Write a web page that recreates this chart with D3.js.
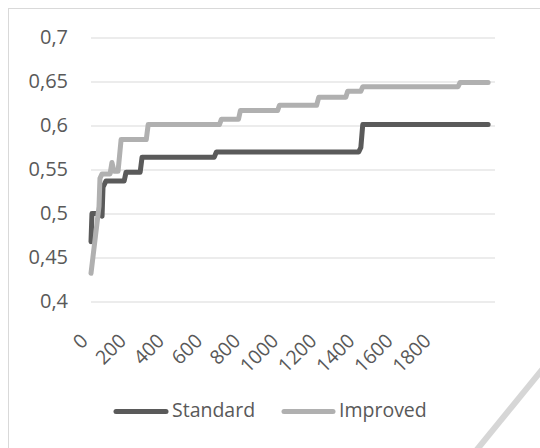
<!DOCTYPE html>
<html>
<head>
<meta charset="utf-8">
<script src="https://cdn.jsdelivr.net/npm/d3@7"></script>
<style>
  html, body { margin: 0; padding: 0; background: #ffffff; }
  svg { display: block; }
  text { font-family: "Open Sans", "Noto Sans", sans-serif; fill: #595959; }
</style>
</head>
<body>
<svg id="chart" width="540" height="448"></svg>
<script>
// ---- data ----
const seriesNames = ["Standard", "Improved"];
const standardX = [0, 5, 53, 58, 63, 79, 174, 184, 258, 268, 647, 658, 1405, 1416, 1426, 2084];
const standardY = [0.468, 0.500, 0.500, 0.497, 0.530, 0.537, 0.537, 0.547, 0.547, 0.564, 0.564, 0.570, 0.570, 0.575, 0.601, 0.601];
const improvedX = [0, 21, 42, 47, 58, 100, 110, 121, 142, 158, 290, 300, 674, 684, 774, 784, 979, 989, 1184, 1195, 1337, 1347, 1416, 1426, 1926, 1937, 2084];
const improvedY = [0.432, 0.470, 0.508, 0.540, 0.545, 0.545, 0.558, 0.548, 0.548, 0.584, 0.584, 0.601, 0.601, 0.607, 0.607, 0.617, 0.617, 0.623, 0.623, 0.632, 0.632, 0.639, 0.639, 0.644, 0.644, 0.649, 0.649];
const xTickValues = [0, 200, 400, 600, 800, 1000, 1200, 1400, 1600, 1800];
const yTickValues = [0.4, 0.45, 0.5, 0.55, 0.6, 0.65, 0.7];
const yTickLabels = ["0,4", "0,45", "0,5", "0,55", "0,6", "0,65", "0,7"];
const seriesColors = ["#5a5a5a", "#b0b0b0"];

// ---- layout ----
const svg = d3.select("#chart");
const plot = { left: 91, right: 495, top: 37.5, bottom: 301.5 };

const x = d3.scaleLinear().domain([0, 2120]).range([plot.left, plot.right]);
const y = d3.scaleLinear().domain([0.4, 0.7]).range([plot.bottom, plot.top]);

// chart frame
svg.append("rect")
  .attr("x", 8.5).attr("y", 8.5)
  .attr("width", 560).attr("height", 460)
  .attr("fill", "none").attr("stroke", "#d9d9d9").attr("stroke-width", 1);

// decorative diagonal at bottom-right
svg.append("line")
  .attr("x1", 545).attr("y1", 366)
  .attr("x2", 475).attr("y2", 452)
  .attr("stroke", "#d6d6d6").attr("stroke-width", 6);

// gridlines
const yAxis = d3.axisLeft(y)
  .tickValues(yTickValues)
  .tickSize(-(plot.right - plot.left))
  .tickPadding(23)
  .tickFormat((d, i) => yTickLabels[i]);

const gy = svg.append("g")
  .attr("transform", `translate(${plot.left},0)`)
  .call(yAxis);
gy.select(".domain").remove();
gy.selectAll(".tick line").attr("stroke", "#d9d9d9").attr("stroke-width", 1);
gy.selectAll(".tick text")
  .attr("font-size", 20)
  .attr("fill", "#595959")
  .style("font-family", '"Open Sans", sans-serif');

// x axis labels (rotated)
const xAxis = d3.axisBottom(x)
  .tickValues(xTickValues)
  .tickSize(0)
  .tickFormat(d3.format("d"));
const gx = svg.append("g")
  .attr("transform", `translate(0,${plot.bottom})`)
  .call(xAxis);
gx.select(".domain").remove();
gx.selectAll(".tick text")
  .attr("font-size", 19.5)
  .attr("fill", "#595959")
  .style("font-family", '"Open Sans", sans-serif')
  .attr("text-anchor", "end")
  .attr("dy", null)
  .attr("y", 0)
  .attr("transform", "translate(-6,37) rotate(-45)")
  .attr("dominant-baseline", "middle");

// lines
const line = d3.line().x(d => x(d[0])).y(d => y(d[1]));
const series = [
  d3.zip(standardX, standardY),
  d3.zip(improvedX, improvedY)
];
series.forEach((s, i) => {
  svg.append("path")
    .datum(s)
    .attr("d", line)
    .attr("fill", "none")
    .attr("stroke", seriesColors[i])
    .attr("stroke-width", 5)
    .attr("stroke-linejoin", "round")
    .attr("stroke-linecap", "round");
});

// legend
const legendItems = [
  { name: seriesNames[0], color: seriesColors[0], x1: 116, x2: 166, tx: 172 },
  { name: seriesNames[1], color: seriesColors[1], x1: 284, x2: 333, tx: 339 }
];
const legendY = 411.5;
const lg = svg.append("g");
legendItems.forEach(it => {
  lg.append("line")
    .attr("x1", it.x1).attr("x2", it.x2)
    .attr("y1", legendY).attr("y2", legendY)
    .attr("stroke", it.color).attr("stroke-width", 5)
    .attr("stroke-linecap", "round");
  lg.append("text")
    .attr("x", it.tx).attr("y", legendY)
    .attr("dominant-baseline", "middle")
    .attr("font-size", 19.5)
    .attr("fill", "#595959")
    .text(it.name);
});
</script>
</body>
</html>
